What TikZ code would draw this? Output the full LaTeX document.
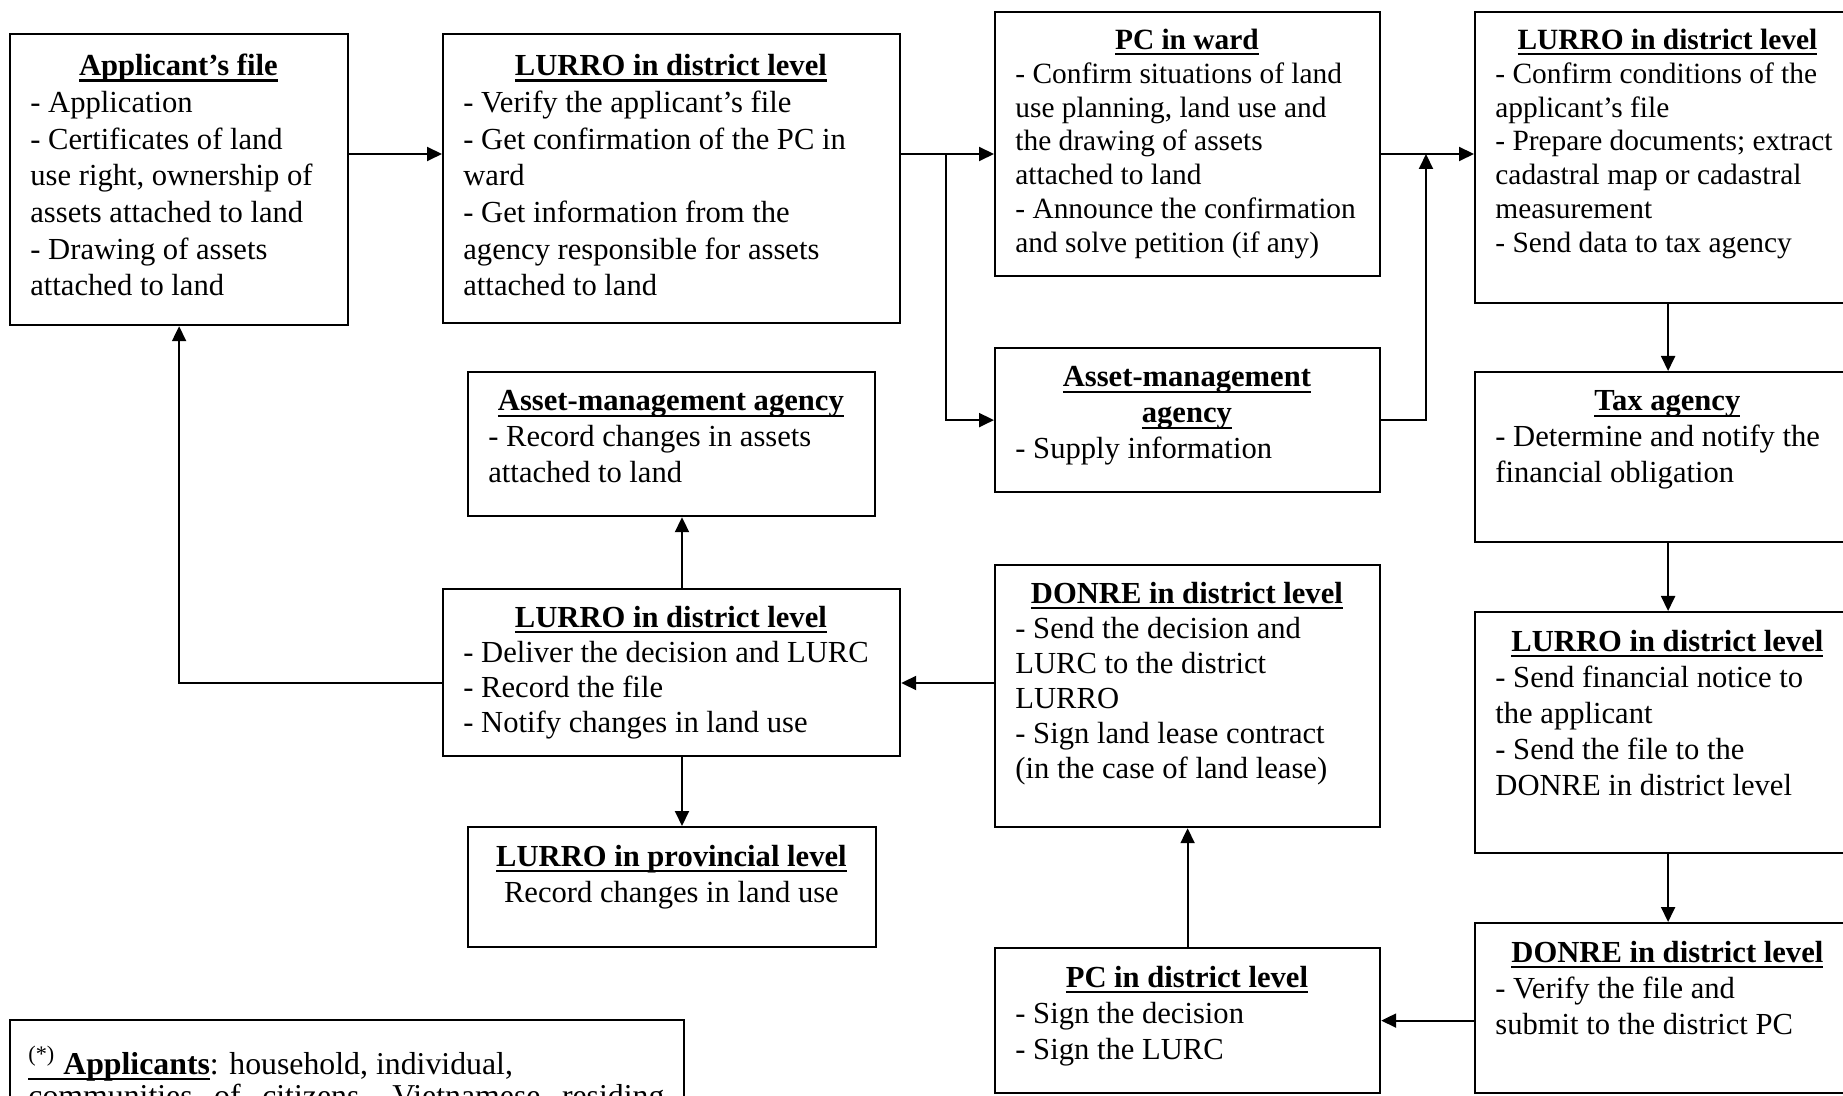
\documentclass[tikz,border=0pt]{standalone}
\usepackage{fontspec}
\setmainfont{Liberation Serif}
\usetikzlibrary{arrows.meta}

\newcommand{\hdline}[1]{\leavevmode\setbox0=\hbox{#1}\rlap{\rule[-3pt]{\wd0}{1.1pt}}\box0}
\newcommand{\boxhead}[1]{\makebox[\hdwidth][c]{\bfseries\strut\hdline{#1}}}

\begin{document}
\begin{tikzpicture}[x=0.5pt,y=0.5pt,yscale=-1,xscale=1,
    stage/.style 2 args={draw, line width=1.1pt, inner sep=0pt, anchor=north west, minimum width=#1*0.5pt, minimum height=#2*0.5pt},
    boxtext/.style={anchor=north west, inner xsep=10.5pt, inner ysep=7.2pt, align=left, font=\fontsize{15.3}{18}\selectfont,
        /utils/exec={\pgfmathsetlengthmacro\hdwidth{#1*0.5pt-21pt}}},
    loose/.style={inner ysep=8.3pt, font=\fontsize{15.3}{18.35}\selectfont},
    snug/.style={font=\fontsize{15.3}{17.5}\selectfont},
    tight/.style={font=\fontsize{14.7}{16.9}\selectfont},
    flow/.style={line width=1pt, -{Triangle[length=7.5pt,width=7pt]}}]
    \useasboundingbox (0,0) rectangle (1843,1096);
    \clip (0,0) rectangle (1843,1096);

    %Shape: Rectangle [applicant's file]
    \node[stage={338}{291}] (appfile) at (9,33) {};
    %Shape: Rectangle [LURRO, district, top row]
    \node[stage={457}{289}] (lurroA) at (442,33) {};
    %Shape: Rectangle [PC in ward]
    \node[stage={385}{264}] (pcward) at (994,11) {};
    %Shape: Rectangle [LURRO, district, right column]
    \node[stage={386}{291}] (lurroB) at (1474,11) {};
    %Shape: Rectangle [asset agency, right]
    \node[stage={385}{144}] (assetA) at (994,347) {};
    %Shape: Rectangle [asset agency, left]
    \node[stage={407}{144}] (assetB) at (467,371) {};
    %Shape: Rectangle [tax agency]
    \node[stage={386}{170}] (tax) at (1474,371) {};
    %Shape: Rectangle [LURRO, district, middle]
    \node[stage={457}{167}] (lurroC) at (442,588) {};
    %Shape: Rectangle [DONRE, middle]
    \node[stage={385}{262}] (donreA) at (994,564) {};
    %Shape: Rectangle [LURRO, district, right middle]
    \node[stage={386}{241}] (lurroD) at (1474,611) {};
    %Shape: Rectangle [LURRO, provincial]
    \node[stage={408}{120}] (lurroP) at (467,826) {};
    %Shape: Rectangle [DONRE, bottom right]
    \node[stage={386}{170}] (donreB) at (1474,922) {};
    %Shape: Rectangle [PC in district]
    \node[stage={385}{145}] (pcdist) at (994,947) {};
    %Shape: Rectangle [footnote]
    \node[stage={674}{140}] (note) at (9,1019) {};

    % Text Node
    \node[boxtext=338, loose] (appfile-t) at (appfile.north west) {\boxhead{Applicant’s file}\\
    - Application\\
    - Certificates of land\\
    use right, ownership of\\
    assets attached to land\\
    - Drawing of assets\\
    attached to land};
    % Text Node
    \node[boxtext=457, loose] (lurroA-t) at (lurroA.north west) {\boxhead{LURRO in district level}\\
    - Verify the applicant’s file\\
    - Get confirmation of the PC in\\
    ward\\
    - Get information from the\\
    agency responsible for assets\\
    attached to land};
    % Text Node
    \node[boxtext=385, tight] (pcward-t) at (pcward.north west) {\boxhead{PC in ward}\\
    - Confirm situations of land\\
    use planning, land use and\\
    the drawing of assets\\
    attached to land\\
    - Announce the confirmation\\
    and solve petition (if any)};
    % Text Node
    \node[boxtext=386, tight] (lurroB-t) at (lurroB.north west) {\boxhead{LURRO in district level}\\
    - Confirm conditions of the\\
    applicant’s file\\
    - Prepare documents; extract\\
    cadastral map or cadastral\\
    measurement\\
    - Send data to tax agency};
    % Text Node
    \node[boxtext=385] (assetA-t) at (assetA.north west) {\boxhead{Asset-management}\\
    \boxhead{agency}\\
    - Supply information};
    % Text Node
    \node[boxtext=407] (assetB-t) at (assetB.north west) {\boxhead{Asset-management agency}\\
    - Record changes in assets\\
    attached to land};
    % Text Node
    \node[boxtext=386] (tax-t) at (tax.north west) {\boxhead{Tax agency}\\
    - Determine and notify the\\
    financial obligation};
    % Text Node
    \node[boxtext=457, snug] (lurroC-t) at (lurroC.north west) {\boxhead{LURRO in district level}\\
    - Deliver the decision and LURC\\
    - Record the file\\
    - Notify changes in land use};
    % Text Node
    \node[boxtext=385, snug] (donreA-t) at (donreA.north west) {\boxhead{DONRE in district level}\\
    - Send the decision and\\
    LURC to the district\\
    LURRO\\
    - Sign land lease contract\\
    (in the case of land lease)};
    % Text Node
    \node[boxtext=386] (lurroD-t) at (lurroD.north west) {\boxhead{LURRO in district level}\\
    - Send financial notice to\\
    the applicant\\
    - Send the file to the\\
    DONRE in district level};
    % Text Node
    \node[boxtext=408] (lurroP-t) at (lurroP.north west) {\boxhead{LURRO in provincial level}\\
    \makebox[\hdwidth][c]{Record changes in land use}};
    % Text Node
    \node[boxtext=386] (donreB-t) at (donreB.north west) {\boxhead{DONRE in district level}\\
    - Verify the file and\\
    submit to the district PC};
    % Text Node
    \node[boxtext=385] (pcdist-t) at (pcdist.north west) {\boxhead{PC in district level}\\
    - Sign the decision\\
    - Sign the LURC};
    % Text Node
    \node[anchor=north west, inner xsep=9.5pt, inner ysep=13.4pt, align=left, font=\fontsize{15.9}{13}\selectfont] (note-t) at (note.north west) {\strut\hdline{\textsuperscript{(*)} \textbf{Applicants}}: household, individual,\\
    \makebox[318pt][s]{communities of citizens, Vietnamese residing}};

    % route points
    \coordinate (rowA) at (0,154);
    \coordinate (splitA) at (946,154);
    \coordinate (joinA) at (1426,154);
    \coordinate (rowC) at (0,683);
    \coordinate (colC) at (682,0);

    %Straight Lines
    \draw[flow] (appfile.east |- rowA) -- (lurroA.west |- rowA);
    \draw[flow] (lurroA.east |- rowA) -- (pcward.west |- rowA);
    \draw[flow] (splitA) |- (assetA.west);
    \draw[flow] (pcward.east |- rowA) -- (lurroB.west |- rowA);
    \draw[flow] (assetA.east) -| (joinA);
    \draw[flow] (lurroB.south) -- (tax.north);
    \draw[flow] (tax.south) -- (lurroD.north);
    \draw[flow] (lurroD.south) -- (donreB.north);
    \draw[flow] (donreB.west |- pcdist.east) -- (pcdist.east);
    \draw[flow] (pcdist.north) -- (donreA.south);
    \draw[flow] (donreA.west |- rowC) -- (lurroC.east |- rowC);
    \draw[flow] (lurroC.north -| colC) -- (assetB.south -| colC);
    \draw[flow] (lurroC.south -| colC) -- (lurroP.north -| colC);
    \draw[flow] (lurroC.west |- rowC) -| (appfile.south);

\end{tikzpicture}
\end{document}
